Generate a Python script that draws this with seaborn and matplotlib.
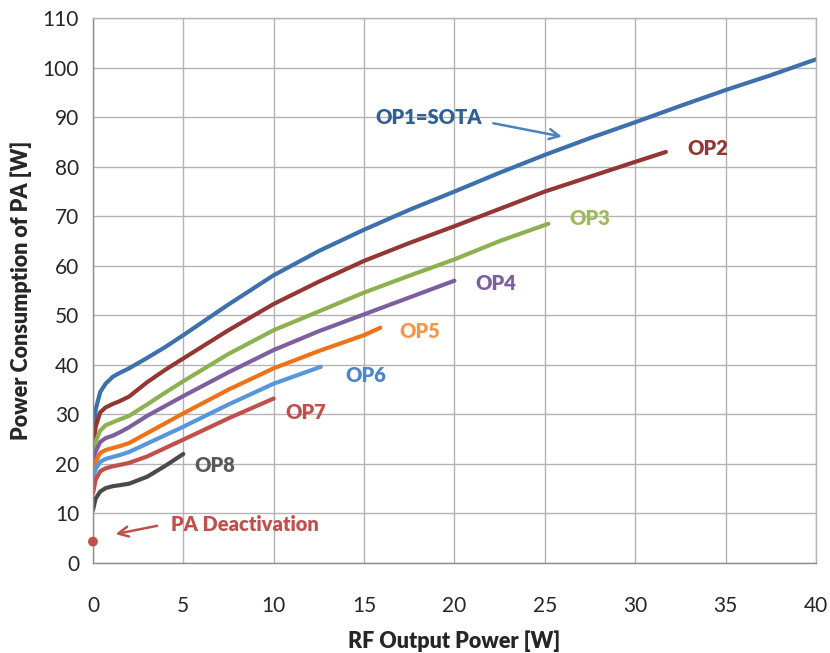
import pandas as pd
import matplotlib
matplotlib.use("Agg")
import matplotlib.pyplot as plt
import seaborn as sns

# values (RF output power [W] -> PA consumption [W])
knee_x = [0, 0.15, 0.4, 0.7, 1.1, 1.5, 2, 3, 4, 5, 7.5, 10]
op1_x = knee_x + [12.5, 15, 17.5, 20, 22.5, 25, 27.5, 30, 32.5, 35, 37.5, 40]
op1_y = [24, 31, 34.5, 36.2, 37.6, 38.4, 39.3, 41.4, 43.6, 46, 52.2, 58.1,
         63, 67.3, 71.3, 75, 78.8, 82.4, 85.8, 89, 92.3, 95.5, 98.5, 101.7]
op2_x = knee_x + [12.5, 15, 17.5, 20, 22.5, 25, 27.5, 30, 31.7]
op2_y = [23, 27.5, 30.4, 31.4, 32.1, 32.7, 33.6, 36.5, 39, 41.3, 47, 52.3,
         56.8, 61, 64.6, 68, 71.5, 75, 78, 81, 83]
op3_x = knee_x + [12.5, 15, 17.5, 20, 22.5, 25.2]
op3_y = [21.5, 24.5, 26.7, 27.8, 28.4, 29, 29.7, 32, 34.4, 36.7, 42.2, 47,
         50.8, 54.6, 58, 61.3, 65, 68.5]
op4_x = knee_x + [12.5, 15, 17.5, 20]
op4_y = [20.5, 22.5, 24.4, 25.2, 25.7, 26.4, 27.4, 29.7, 31.7, 33.7, 38.5, 43,
         46.8, 50.2, 53.6, 57]
op5_x = knee_x + [12.5, 15, 15.9]
op5_y = [18.5, 20.5, 22.2, 22.8, 23.2, 23.6, 24.2, 26.2, 28.2, 30.2, 35, 39.3,
         42.8, 46, 47.5]
op6_x = knee_x + [12.6]
op6_y = [17, 19, 20.4, 21, 21.4, 21.8, 22.4, 24.1, 25.8, 27.5, 32, 36.2, 39.6]
op7_x = knee_x
op7_y = [14, 16.8, 18.5, 19.1, 19.5, 19.8, 20.2, 21.5, 23.2, 24.9, 29.2, 33.2]
op8_x = knee_x[:10]
op8_y = [10.7, 13, 14.4, 15.1, 15.5, 15.7, 16, 17.4, 19.6, 22]
deact_x = [0]
deact_y = [4.3]

names = ["OP1", "OP2", "OP3", "OP4", "OP5", "OP6", "OP7", "OP8"]
xs = [op1_x, op2_x, op3_x, op4_x, op5_x, op6_x, op7_x, op8_x]
ys = [op1_y, op2_y, op3_y, op4_y, op5_y, op6_y, op7_y, op8_y]
colors = ["#3D70AC", "#943634", "#8DB050", "#7D5FA0", "#EE7218", "#5596DC", "#C0504D", "#4A4A4A"]
label_colors = ["#2F5F95", "#943634", "#9BBB59", "#7D5FA0", "#F79646", "#4A86C8", "#C0504D", "#595959"]

frames = []
for n, x, y in zip(names, xs, ys):
    frames.append(pd.DataFrame({"x": x, "y": y, "op": n}))
df = pd.concat(frames)

sns.set_style("white")
plt.rcParams["font.family"] = ["Lato", "DejaVu Sans"]

fig = plt.figure(figsize=(8.3, 6.53), dpi=100)
ax = fig.add_axes([0.112, 0.138, 0.871, 0.834])

sns.lineplot(data=df, x="x", y="y", hue="op", palette=dict(zip(names, colors)),
             sort=False, estimator=None, linewidth=3, legend=False, ax=ax)
sns.scatterplot(x=deact_x, y=deact_y, color="#C0504D", s=50, edgecolor="none",
                clip_on=False, zorder=5, ax=ax)

ax.set_xlim(0, 40)
ax.set_ylim(0, 110)
ax.set_xticks(range(0, 41, 5))
ax.set_yticks(range(0, 111, 10))
ax.grid(True, color="#B3B3B3", linewidth=1)
ax.set_axisbelow(True)
for s in ax.spines.values():
    s.set_color("#B3B3B3")
    s.set_linewidth(1)
ax.spines["left"].set_color("#8C8C8C")
ax.spines["bottom"].set_color("#8C8C8C")
ax.tick_params(axis="both", length=5, color="#8C8C8C", labelsize=15, pad=5)
ax.tick_params(axis="x", pad=19)
ax.set_xlabel("RF Output Power [W]", fontsize=15.5, fontweight="heavy", labelpad=10)
ax.set_ylabel("Power Consumption of PA [W]", fontsize=15.5, fontweight="heavy", labelpad=8)

# curve labels
label_pos = [(18.6, 90), (34.0, 83.7), (27.5, 69.6), (22.3, 56.5), (18.1, 46.8),
             (15.1, 37.9), (11.8, 30.3), (6.75, 19.6)]
label_txt = ["OP1=SOTA", "OP2", "OP3", "OP4", "OP5", "OP6", "OP7", "OP8"]
for (lx, ly), t, c in zip(label_pos, label_txt, label_colors):
    ax.text(lx, ly, t, color=c, fontsize=14.5, fontweight="heavy", ha="center", va="center")

ax.annotate("", xy=(26.1, 86.0), xytext=(22.0, 88.9),
            arrowprops=dict(arrowstyle="->", color="#4F81BD", lw=1.8, mutation_scale=18))
ax.text(8.4, 7.7, "PA Deactivation", color="#C0504D", fontsize=14.5, fontweight="heavy",
        ha="center", va="center")
ax.annotate("", xy=(1.1, 5.7), xytext=(3.7, 7.6),
            arrowprops=dict(arrowstyle="->", color="#C0504D", lw=1.8, mutation_scale=18))

fig.savefig("out.png", dpi=100)
